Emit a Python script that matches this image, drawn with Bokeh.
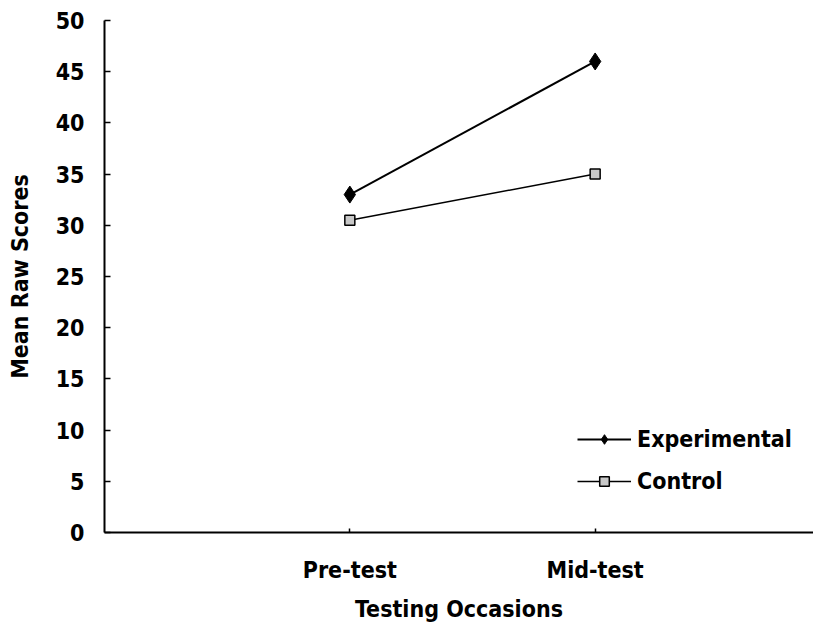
from bokeh.plotting import figure
from bokeh.models import Range1d, FixedTicker, Legend, LegendItem
from bokeh.embed import file_html
from bokeh.resources import INLINE

occasions = ["Pre-test", "Mid-test"]
occasion_pos = [1, 2]
experimental = [33.0, 46.0]
control = [30.5, 35.0]
y_ticks = [0, 5, 10, 15, 20, 25, 30, 35, 40, 45, 50]

FONT = "DejaVu Sans Condensed, Liberation Sans Narrow, sans-serif"
FS = "23px"

p = figure(width=813, height=624, output_backend="svg", toolbar_location=None,
           x_range=Range1d(0, 2.89), y_range=Range1d(0, 50),
           min_border_left=104, min_border_right=0, min_border_top=20, min_border_bottom=85)
p.grid.visible = False
p.outline_line_color = None
p.background_fill_color = "white"
p.border_fill_color = "white"

r1 = p.line(occasion_pos, experimental, line_color="black", line_width=2)
m1 = p.scatter(occasion_pos, experimental, marker="diamond", size=17,
               fill_color="black", line_color="black")
r2 = p.line(occasion_pos, control, line_color="black", line_width=1.5)
m2 = p.scatter(occasion_pos, control, marker="square", size=10,
               fill_color="#c8c8c8", line_color="black", line_width=1.5)

for ax in (p.xaxis[0], p.yaxis[0]):
    ax.axis_line_color = "black"
    ax.axis_line_width = 2
    ax.major_tick_line_color = "black"
    ax.major_tick_line_width = 1.5
    ax.minor_tick_line_color = None
    ax.major_tick_out = 0
    ax.major_label_text_font = FONT
    ax.major_label_text_font_style = "bold"
    ax.major_label_text_font_size = FS
    ax.major_label_text_color = "black"
    ax.axis_label_text_font = FONT
    ax.axis_label_text_font_style = "bold"
    ax.axis_label_text_font_size = FS
    ax.axis_label_text_color = "black"

p.yaxis.ticker = FixedTicker(ticks=y_ticks)
p.yaxis.major_tick_in = 6
p.yaxis.major_label_standoff = 20
p.yaxis.axis_label = "Mean Raw Scores"
p.yaxis.axis_label_standoff = 20

p.xaxis.ticker = FixedTicker(ticks=occasion_pos)
p.xaxis.major_label_overrides = {pos: name for pos, name in zip(occasion_pos, occasions)}
p.xaxis.major_tick_in = 4
p.xaxis.major_label_standoff = 24
p.xaxis.axis_label = "Testing Occasions"
p.xaxis.axis_label_standoff = 10

legend = Legend(items=[LegendItem(label="Experimental", renderers=[r1, m1]),
                       LegendItem(label="Control", renderers=[r2, m2])],
                location=(473, 38))
legend.label_text_font = FONT
legend.label_text_font_style = "bold"
legend.label_text_font_size = FS
legend.label_text_color = "black"
legend.glyph_width = 54
legend.glyph_height = 24
legend.spacing = 16
legend.label_standoff = 6
legend.background_fill_alpha = 0
legend.border_line_color = None
legend.padding = 0
legend.margin = 0
p.add_layout(legend, "center")

open("out.html", "w").write(file_html(p, INLINE))
